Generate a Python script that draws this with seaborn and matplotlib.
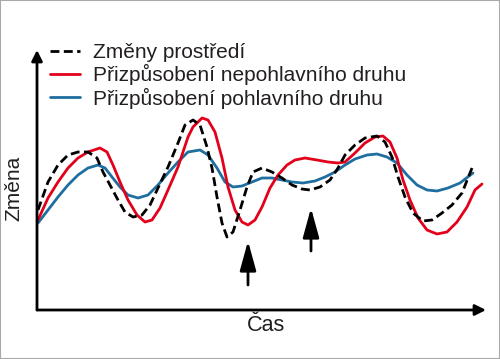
import matplotlib
matplotlib.use("Agg")
import matplotlib.pyplot as plt
import seaborn as sns
import pandas as pd
from matplotlib.patches import Rectangle
from matplotlib.lines import Line2D

sns.set_style("white")
plt.rcParams['font.family'] = ['Liberation Sans', 'DejaVu Sans']

# ---- data (arbitrary units: time, change) ----
labels = ["Změny prostředí",
          "Přizpůsobení nepohlavního druhu",
          "Přizpůsobení pohlavního druhu"]

env_t = [1, 11, 21, 31, 41, 51, 60, 66, 73, 81, 88, 96, 105, 113, 121, 131, 141, 148,
         156, 163, 170, 175, 180, 185, 190, 196, 203, 210, 216, 225, 235, 245, 255,
         265, 273, 283, 293, 301, 308, 318, 328, 340, 348, 355, 361, 368, 376, 386,
         395, 405, 415, 425, 435]
env_v = [100, 128, 145, 155, 158, 158, 152, 138, 125, 110, 98, 93, 95, 105, 122, 143,
         167, 185, 190, 185, 163, 142, 113, 87, 73, 78, 100, 123, 138, 142, 138, 132,
         125, 121, 120, 123, 130, 142, 155, 165, 172, 174, 168, 153, 133, 113, 97, 89,
         90, 97, 105, 117, 142]

asex_t = [1, 11, 21, 31, 41, 51, 63, 70, 76, 83, 91, 100, 108, 115, 123, 131, 141, 151,
          156, 165, 171, 178, 185, 191, 198, 205, 211, 218, 225, 233, 241, 250, 258,
          268, 280, 291, 301, 308, 318, 328, 338, 346, 353, 360, 366, 373, 381, 390,
          400, 410, 420, 430, 438, 445]
asex_v = [90, 112, 128, 142, 152, 158, 162, 158, 145, 128, 110, 95, 88, 90, 102, 120,
          143, 173, 183, 192, 190, 178, 152, 123, 100, 88, 85, 90, 103, 122, 135, 145,
          150, 152, 150, 148, 147, 148, 157, 167, 173, 174, 168, 152, 130, 110, 92, 80,
          76, 78, 88, 103, 120, 126]

sex_t = [1, 11, 21, 31, 41, 51, 61, 68, 75, 83, 91, 101, 111, 121, 131, 141, 151, 163,
         171, 180, 188, 196, 205, 215, 225, 235, 245, 255, 266, 278, 288, 298, 308,
         318, 330, 340, 350, 360, 370, 380, 390, 400, 411, 423, 436]
sex_v = [87, 100, 113, 125, 135, 142, 145, 142, 133, 123, 115, 112, 115, 125, 137, 148,
         158, 160, 155, 142, 128, 123, 124, 128, 132, 132, 130, 128, 127, 129, 133, 138,
         145, 151, 155, 156, 153, 147, 135, 125, 120, 119, 122, 127, 137]

# marked moments (arrows): time, tail level, tip level
arrow_t = [211, 274]
arrow_tail = [25, 59]
arrow_tip = [69, 102]

axis_xmax, axis_ymax = 449, 260

# ---- figure ----
fig = plt.figure(figsize=(5.0, 3.59), dpi=100)
ax = fig.add_axes([37 / 500, 49 / 359, 449 / 500, 260 / 359])

RED = "#e2001a"
BLUE = "#1e6ea0"
BLACK = "#000000"
LW = 2.0

df_sex = pd.DataFrame({"t": sex_t, "v": sex_v})
df_asex = pd.DataFrame({"t": asex_t, "v": asex_v})
df_env = pd.DataFrame({"t": env_t, "v": env_v})

sns.lineplot(data=df_sex, x="t", y="v", ax=ax, color=BLUE, lw=LW, sort=False,
             estimator=None, zorder=2, solid_capstyle="round", solid_joinstyle="round")
sns.lineplot(data=df_asex, x="t", y="v", ax=ax, color=RED, lw=LW, sort=False,
             estimator=None, zorder=3, solid_capstyle="round", solid_joinstyle="round")
sns.lineplot(data=df_env, x="t", y="v", ax=ax, color=BLACK, lw=LW, sort=False,
             estimator=None, zorder=4, linestyle=(0, (3.2, 1.6)),
             dash_joinstyle="round")

ax.set_xlim(0, axis_xmax)
ax.set_ylim(0, axis_ymax)
ax.set_xticks([])
ax.set_yticks([])
for s in ax.spines.values():
    s.set_visible(False)
ax.set_xlabel("")
ax.set_ylabel("")

# axis arrows
ax.annotate("", xy=(1, 0), xytext=(0, 0), xycoords="axes fraction",
            arrowprops=dict(arrowstyle="-|>", lw=2.0, color="black",
                            mutation_scale=16, shrinkA=0, shrinkB=0), annotation_clip=False)
ax.annotate("", xy=(0, 1), xytext=(0, 0), xycoords="axes fraction",
            arrowprops=dict(arrowstyle="-|>", lw=2.0, color="black",
                            mutation_scale=16, shrinkA=0, shrinkB=0), annotation_clip=False)

# event arrows
for t, a, b in zip(arrow_t, arrow_tail, arrow_tip):
    ax.annotate("", xy=(t, b), xytext=(t, a),
                arrowprops=dict(arrowstyle="-|>,head_length=1.2,head_width=0.33",
                                lw=2.0, color="black", mutation_scale=15,
                                shrinkA=0, shrinkB=0))

# axis labels
TXT = "#231f20"
ax.text(-14 / axis_xmax, (310 - 188) / axis_ymax, "Změna", rotation=90,
        transform=ax.transAxes, ha="right", va="center", fontsize=15, color=TXT)
ax.text((266 - 37) / axis_xmax, -(315 - 310) / axis_ymax, "Čas",
        transform=ax.transAxes, ha="center", va="top", fontsize=15.5, color=TXT)

# legend
handles = [Line2D([], [], color=BLACK, lw=LW, linestyle=(0, (3.2, 1.6))),
           Line2D([], [], color=RED, lw=LW),
           Line2D([], [], color=BLUE, lw=LW)]
fig.legend(handles, labels, loc="upper left", bbox_to_anchor=(50 / 500, 1 - 43 / 359),
           frameon=False, fontsize=15, handlelength=1.44, handletextpad=0.62,
           labelspacing=0.11, borderpad=0, borderaxespad=0, labelcolor=TXT)

# outer frame
fig.patches.append(Rectangle((0, 0), 1, 1, transform=fig.transFigure, fill=False,
                             edgecolor="#a8a8a8", lw=1.5, zorder=10))

fig.savefig("out.png", dpi=100)
